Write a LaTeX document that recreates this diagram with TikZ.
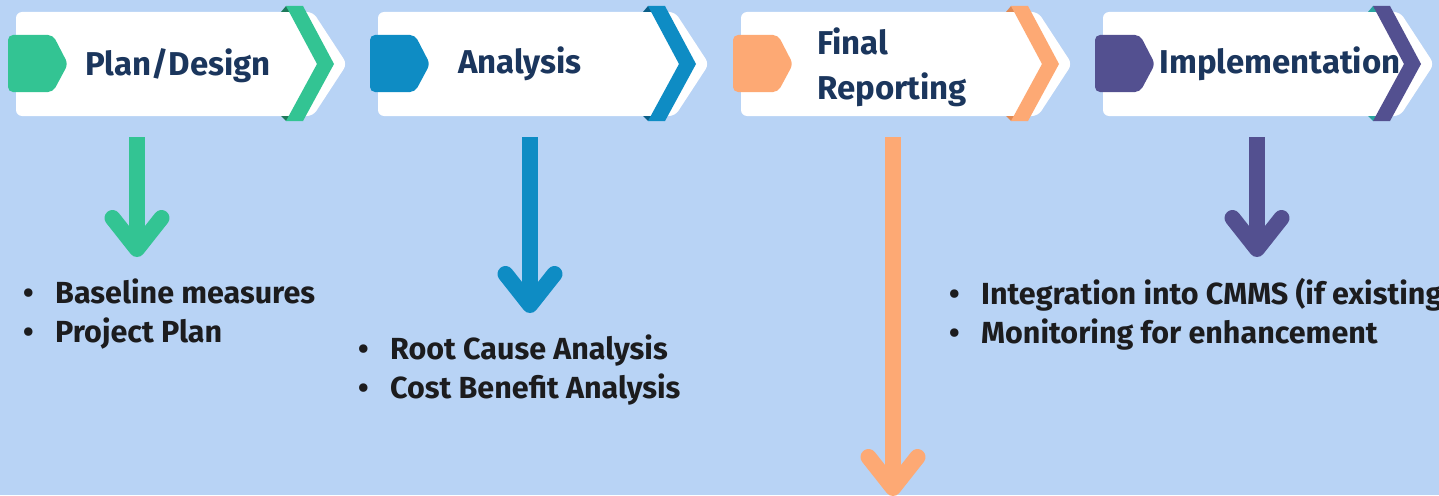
\documentclass[tikz,border=0pt]{standalone}
\usepackage{fontspec}
\setmainfont{Fira Sans}
\usetikzlibrary{arrows.meta}
\definecolor{skyback}{HTML}{B8D3F5}
\definecolor{plangreen}{HTML}{33C493}
\definecolor{plandark}{HTML}{1E7A5A}
\definecolor{analysisblue}{HTML}{0E8CC4}
\definecolor{analysisdark}{HTML}{0A5F88}
\definecolor{reportorange}{HTML}{FDA974}
\definecolor{reportdark}{HTML}{E08A55}
\definecolor{implpurple}{HTML}{535090}
\definecolor{impldark}{HTML}{2AA5A0}
\definecolor{titlenavy}{HTML}{1B365D}
\definecolor{itemblack}{HTML}{1C1C1E}
\tikzset{
  cardbody/.style={fill=white, rounded corners=6pt},
  cardtab/.style={rounded corners=5pt},
  stagetitle/.style={font=\fontsize{33}{44}\selectfont\bfseries, text=titlenavy, inner sep=0pt},
  itemlist/.style={font=\fontsize{30.5}{38.5}\selectfont\bfseries, text=itemblack, align=left, inner sep=0pt, anchor=base west},
  downarrow/.style={line width=16pt, -{Straight Barb[length=31pt, width=49pt, round]}}
}
% one stage card: left edge, colour, fold colour
\newcommand{\stagecard}[3]{%
  \fill[cardbody] (#1,12) -- (#1+297,12) -- (#1+331,64) -- (#1+297,116) -- (#1,116) -- cycle;
  \fill[#3] (#1+265,12) -- (#1+270,6) -- (#1+277,12) -- cycle;
  \fill[#3] (#1+265,116) -- (#1+270,121) -- (#1+277,116) -- cycle;
  \fill[#2] (#1+270,6) -- (#1+287,6) -- (#1+318,64) -- (#1+287,121) -- (#1+270,121) -- (#1+301,64) -- cycle;
  \fill[#2, cardtab] (#1-8,35) -- (#1+37,35) -- (#1+52,64) -- (#1+37,92) -- (#1-8,92) -- cycle;
}
\newcommand{\itemrow}[1]{\makebox[32pt][l]{\textbullet}#1}

\begin{document}
\begin{tikzpicture}[x=1pt, y=-1pt]
  \useasboundingbox (0,0) rectangle (1439,495);
  \clip (0,0) rectangle (1439,495);
  \fill[skyback] (0,0) rectangle (1439,495);

  \stagecard{16}{plangreen}{plandark}
  \stagecard{378}{analysisblue}{analysisdark}
  \stagecard{741}{reportorange}{reportdark}
  \stagecard{1103}{implpurple}{impldark}

  \node[stagetitle, anchor=base] (plan) at (178, 75) {Plan/Design};
  \node[stagetitle, anchor=base] (analysis) at (520, 74) {Analysis};
  \node[stagetitle, anchor=base west, align=left] (report) at (817, 99) {Final\\Reporting};
  \node[stagetitle, anchor=base] (impl) at (1280, 74) {Implementation};

  \coordinate (plantop) at (137, 137);
  \coordinate (planend) at (137, 257);
  \coordinate (analysistop) at (530, 137);
  \coordinate (analysisend) at (530, 313);
  \coordinate (reporttop) at (893, 137);
  \coordinate (reportend) at (893, 496);
  \coordinate (impltop) at (1257, 137);
  \coordinate (implend) at (1257, 257);
  \draw [downarrow, plangreen] (plantop) -- (planend);
  \draw [downarrow, analysisblue] (analysistop) -- (analysisend);
  \draw [downarrow, reportorange] (reporttop) -- (reportend);
  \draw [downarrow, implpurple] (impltop) -- (implend);

  \node[itemlist] (planitems) at (23, 342) {\itemrow{Baseline measures}\\\itemrow{Project Plan}};
  \node[itemlist] (analysisitems) at (358, 398) {\itemrow{Root Cause Analysis}\\\itemrow{Cost Benefit Analysis}};
  \node[itemlist] (implitems) at (949, 343) {\itemrow{Integration into CMMS (if existing)}\\\itemrow{Monitoring for enhancement}};
\end{tikzpicture}
\end{document}
